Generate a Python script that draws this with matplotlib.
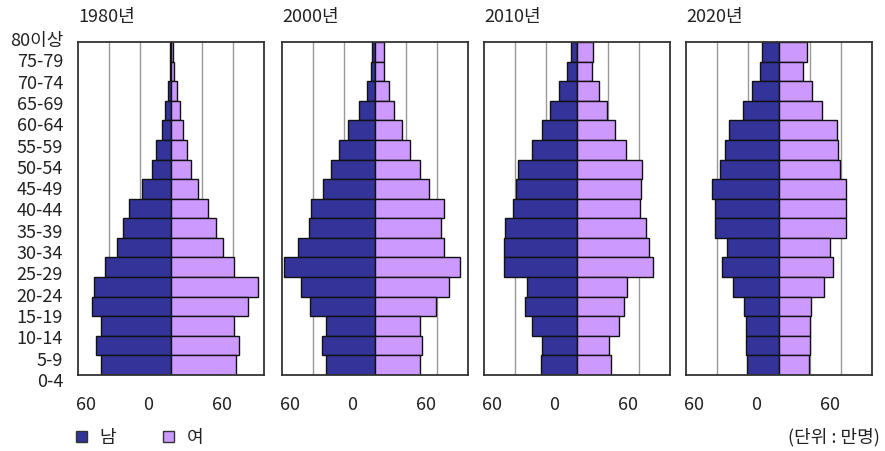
import matplotlib

matplotlib.use("Agg")
import matplotlib.pyplot as plt
from matplotlib.patches import Patch

plt.rcParams["font.family"] = ["Noto Sans CJK KR", "DejaVu Sans"]
plt.rcParams["text.color"] = "#222222"

# age groups, top to bottom
AGE_LABELS = [
    "80이상", "75-79", "70-74", "65-69", "60-64", "55-59", "50-54", "45-49",
    "40-44", "35-39", "30-34", "25-29", "20-24", "15-19", "10-14", "5-9", "0-4",
]
YEARS = ["1980년", "2000년", "2010년", "2020년"]

# population in 만명, same order as AGE_LABELS
MALE_1980 = [1.0, 1.3, 3.2, 5.8, 8.7, 14.2, 18.1, 27.8, 40.4, 46.8, 52.6, 63.6, 74.2, 76.8, 68.1, 72.9, 68.1]
FEMALE_1980 = [2.2, 2.6, 5.5, 8.4, 11.3, 15.2, 19.4, 26.4, 36.1, 43.6, 50.0, 60.7, 83.9, 74.5, 60.7, 65.8, 62.6]
MALE_2000 = [3.2, 4.2, 7.7, 15.5, 26.1, 35.1, 42.6, 50.0, 62.0, 63.9, 74.2, 88.4, 71.6, 62.9, 47.7, 51.3, 47.7]
FEMALE_2000 = [8.7, 9.0, 13.3, 18.7, 26.1, 33.9, 43.6, 52.6, 66.8, 63.9, 67.1, 82.3, 71.9, 59.0, 43.3, 45.8, 43.6]
MALE_2010 = [6.1, 9.7, 17.7, 26.1, 33.9, 43.6, 57.1, 59.3, 61.7, 70.0, 71.0, 70.7, 48.7, 50.0, 43.6, 33.9, 35.1]
FEMALE_2010 = [15.5, 14.5, 21.6, 29.3, 36.8, 47.4, 62.9, 62.0, 61.0, 66.8, 69.7, 73.6, 48.7, 45.5, 40.4, 31.3, 32.9]
MALE_2020 = [16.5, 18.1, 25.8, 35.1, 48.7, 52.6, 57.4, 65.1, 62.2, 62.0, 50.6, 54.9, 44.8, 33.6, 32.2, 32.2, 31.3]
FEMALE_2020 = [27.4, 23.5, 31.7, 41.3, 55.9, 57.1, 58.8, 64.6, 64.6, 65.1, 49.1, 52.3, 43.3, 30.7, 29.7, 29.7, 28.7]

MALE = [MALE_1980, MALE_2000, MALE_2010, MALE_2020]
FEMALE = [FEMALE_1980, FEMALE_2000, FEMALE_2010, FEMALE_2020]

TICK_POSITIONS = [-82, -22, 49]
TICK_LABELS = ["60", "0", "60"]

MALE_COLOR = "#333399"
FEMALE_COLOR = "#cc99ff"

W, H = 885, 451
fig = plt.figure(figsize=(W / 100, H / 100), dpi=100)

panel_lefts = [78, 282, 484, 686]
panel_width = 186
top_px, bottom_px = 42, 375

n = len(AGE_LABELS)
ypos = list(range(n - 1, -1, -1))

for i, left in enumerate(panel_lefts):
    ax = fig.add_axes([
        left / W,
        1 - bottom_px / H,
        panel_width / W,
        (bottom_px - top_px) / H,
    ])
    ax.set_xlim(-90, 90)
    ax.set_ylim(-0.5, n - 0.5)
    for g in (-60, -30, 30, 60):
        ax.axvline(g, color="#999999", linewidth=1.0, zorder=0)
    ax.barh(ypos, [-v for v in MALE[i]], height=1.0, color=MALE_COLOR,
            edgecolor="#111111", linewidth=1.0, zorder=2)
    ax.barh(ypos, FEMALE[i], height=1.0, color=FEMALE_COLOR,
            edgecolor="#111111", linewidth=1.0, zorder=2)

    ax.set_yticks([])
    ax.set_xticks(TICK_POSITIONS)
    ax.set_xticklabels(TICK_LABELS, fontsize=13, color="#222222")
    ax.tick_params(axis="x", length=0, pad=15)
    for spine in ax.spines.values():
        spine.set_color("#333333")
        spine.set_linewidth(1.3)

    ax.text(0.0, 1.0 + 25 / (bottom_px - top_px), YEARS[i], transform=ax.transAxes,
            ha="left", va="center", fontsize=13)

    if i == 0:
        step = 1.024 / (n - 1)
        for k, label in enumerate(AGE_LABELS):
            ax.text(-15 / panel_width, 1.003 - k * step, label, transform=ax.transAxes,
                    ha="right", va="center", fontsize=13)

handles = [
    Patch(facecolor=MALE_COLOR, edgecolor="#333333", linewidth=1.0),
    Patch(facecolor=FEMALE_COLOR, edgecolor="#333333", linewidth=1.0),
]
fig.legend(handles, ["남", "여"], loc="center left",
           bbox_to_anchor=(76 / W, 1 - 438 / H), ncol=2, frameon=False,
           fontsize=13, handlelength=0.6, handleheight=0.6,
           handletextpad=0.7, columnspacing=2.6, borderpad=0, borderaxespad=0)

fig.text(880 / W, 1 - 437 / H, "(단위 : 만명)", ha="right", va="center", fontsize=13)

fig.savefig("out.png", dpi=100)
